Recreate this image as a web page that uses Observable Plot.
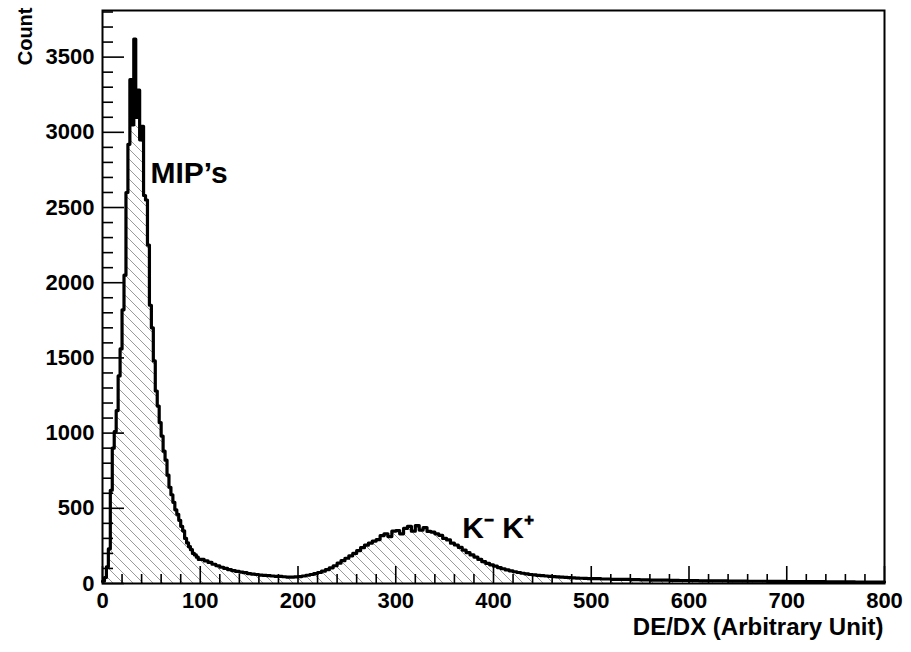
<!DOCTYPE html>
<html><head><meta charset="utf-8">
<script src="https://cdn.jsdelivr.net/npm/d3@7"></script>
<script src="https://cdn.jsdelivr.net/npm/@observablehq/plot@0.6"></script>
<style>
body{margin:0;background:#fff}
#chart{position:relative;width:911px;height:652px}
#chart svg{display:block;position:absolute;left:0;top:0}
.defs-holder{position:absolute;width:0;height:0;overflow:hidden}
</style>
</head><body>
<svg class="defs-holder" width="0" height="0" aria-hidden="true"><defs><pattern id="hatch" patternUnits="userSpaceOnUse" width="10" height="10"><path d="M0,0L10,10M-1,9L1,11M9,-1L11,1" stroke="#9a9a9a" stroke-width="1" fill="none"/></pattern></defs></svg>
<div id="chart"></div>
<script>
// Histogram counts
// 0–100, bin width 2
const peakCounts = [15, 40, 110, 230, 620, 900, 1010, 1150, 1380, 1560,
  1820, 2050, 2600, 2920, 3350, 3050, 3620, 3100, 3280, 2950,
  3040, 2580, 2550, 2250, 1850, 1700, 1480, 1280, 1180, 1070,
  980, 880, 820, 720, 640, 590, 540, 490, 460, 420,
  380, 350, 300, 270, 245, 225, 200, 190, 175, 160];
// 100–500, bin width 4
const midCounts = [160, 150, 140, 128, 118, 108, 100, 92, 86, 80,
  76, 72, 66, 63, 60, 56, 54, 52, 50, 48,
  47, 45, 43, 42, 44, 46, 50, 55, 60, 66,
  73, 82, 92, 104, 118, 135, 152, 168, 184, 200,
  218, 238, 255, 268, 282, 292, 318, 330, 312, 348,
  352, 330, 366, 380, 348, 385, 355, 372, 346, 342,
  330, 320, 300, 290, 268, 256, 240, 222, 205, 190,
  176, 160, 145, 134, 124, 115, 106, 98, 90, 84,
  78, 73, 68, 64, 60, 57, 54, 52, 50, 48,
  46, 44, 42, 41, 39, 38, 36, 35, 34, 33];
// 500–800, bin width 10
const tailCounts = [32, 30, 28, 27, 26, 24, 23, 22, 21, 20,
  19, 18, 18, 17, 16, 16, 15, 15, 14, 14,
  13, 13, 12, 12, 11, 11, 11, 10, 10, 10];

const xTicks = [0, 100, 200, 300, 400, 500, 600, 700, 800];
const yTicks = [0, 500, 1000, 1500, 2000, 2500, 3000, 3500];
const xMinorTicks = d3.range(0, 801, 20).filter(d => d % 100 !== 0);
const yMinorTicks = d3.range(0, 3801, 100).filter(d => d % 500 !== 0);

const annotationLabels = ["MIP’s", "K⁻ K⁺"];
const annotationX = [49, 368];
const annotationY = [2660, 300];

const xTitle = "DE/DX (Arbitrary Unit)";
const yTitle = "Count";

function toBins(counts, start, width) {
  return counts.map((c, i) => ({x1: start + i * width, count: c}));
}
const bins = [...toBins(peakCounts, 0, 2), ...toBins(midCounts, 100, 4), ...toBins(tailCounts, 500, 10)];
const outline = [...bins.map(b => ({x: b.x1, y: b.count})), {x: 800, y: bins[bins.length - 1].count}];
const annotations = annotationLabels.map((t, i) => ({t, x: annotationX[i], y: annotationY[i]}));

const W = 911, H = 652, ML = 102, MR = 27, MT = 10, MB = 69;
const plotW = W - ML - MR, plotH = H - MT - MB;
const font = '"Liberation Sans", Arial, Helvetica, sans-serif';

const chart = Plot.plot({
  width: W, height: H,
  marginLeft: ML, marginRight: MR, marginTop: MT, marginBottom: MB,
  style: {fontFamily: font, fontWeight: "bold", fontSize: "22px", background: "white", color: "black", overflow: "visible"},
  x: {domain: [0, 800]},
  y: {domain: [0, 3810]},
  marks: [
    Plot.areaY(outline, {x: "x", y: "y", curve: "step-after", fill: "url(#hatch)"}),
    Plot.lineY(outline, {x: "x", y: "y", curve: "step-after", stroke: "black", strokeWidth: 3.2}),
    Plot.axisX({ticks: xTicks, tickSize: 0, tickPadding: 9, label: null, tickFormat: "d"}),
    Plot.axisY({ticks: yTicks, tickSize: 0, tickPadding: 8, label: null, tickFormat: "d"}),
    Plot.frame({stroke: "black", strokeWidth: 2}),
    Plot.text([xTitle], {frameAnchor: "bottom-right", textAnchor: "end", lineAnchor: "middle", dx: -1, dy: 44, fontSize: 24}),
    Plot.text([yTitle], {frameAnchor: "top-left", textAnchor: "end", lineAnchor: "middle", rotate: -90, dx: -77, dy: -3, fontSize: 20}),
    Plot.text(annotations, {x: "x", y: "y", text: "t", textAnchor: "start", lineAnchor: "bottom", fontSize: 30})
  ]
});

// inward tick marks, drawn on a transparent layer with identical scales
const tickLayer = Plot.plot({
  width: W, height: H,
  marginLeft: ML, marginRight: MR, marginTop: MT, marginBottom: MB,
  style: {background: "transparent", color: "black", overflow: "visible"},
  x: {domain: [0, 800], axis: null},
  y: {domain: [0, 3810], axis: null},
  marks: [
    Plot.ruleX(xTicks, {x: d => d, insetTop: plotH - 17, stroke: "black", strokeWidth: 1.6}),
    Plot.ruleX(xMinorTicks, {x: d => d, insetTop: plotH - 9, stroke: "black", strokeWidth: 1.6}),
    Plot.tickY(yTicks, {y: d => d, insetRight: plotW - 22, stroke: "black", strokeWidth: 1.6}),
    Plot.tickY(yMinorTicks, {y: d => d, insetRight: plotW - 11, stroke: "black", strokeWidth: 1.6})
  ]
});

const holder = document.getElementById("chart");
holder.appendChild(chart);
holder.appendChild(tickLayer);
</script>
</body></html>
